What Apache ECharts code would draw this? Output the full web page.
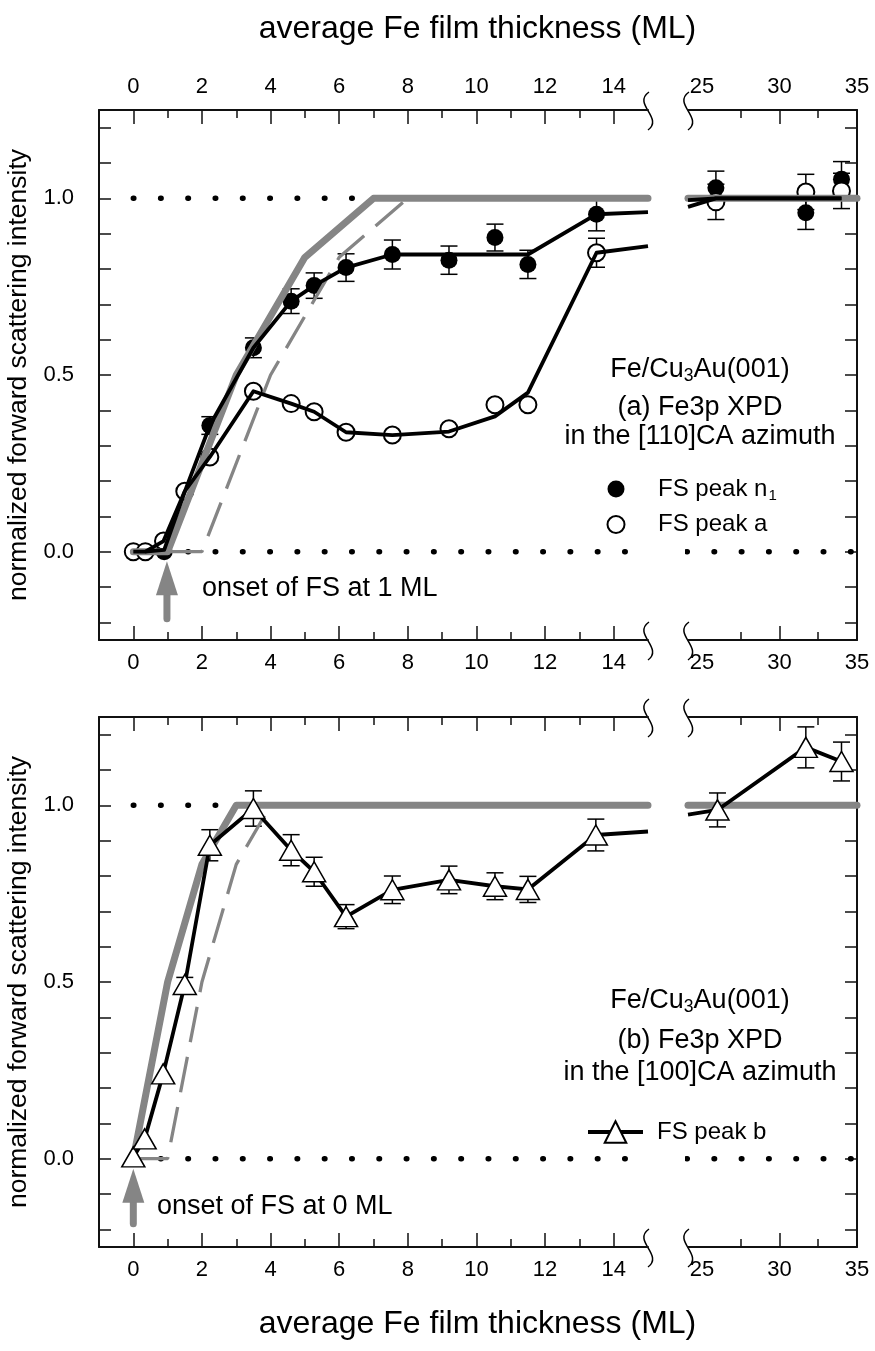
<!DOCTYPE html>
<html><head><meta charset="utf-8">
<script src="https://cdn.jsdelivr.net/npm/echarts@6/dist/echarts.min.js"></script>
<style>html,body{margin:0;padding:0;background:#fff}#c{width:875px;height:1351px}</style>
</head><body><div id="c"></div>
<script>
// ---------------- data ----------------
const xTicksLeftMajor = [0, 2, 4, 6, 8, 10, 12, 14];
const xTicksLeftMinor = [1, 3, 5, 7, 9, 11, 13];
const xLabelsLeft = [0, 2, 4, 6, 8, 10, 12, 14];
const xTicksRightMajor = [30];
const xTicksRightMinor = [27.5, 32.5];
const xLabelsRight = [25, 30, 35];
const yTicks = [-0.2, -0.1, 0, 0.1, 0.2, 0.3, 0.4, 0.5, 0.6, 0.7, 0.8, 0.9, 1.0, 1.1, 1.2];
const yLabels = [0, 0.5, 1.0];

// panel (a): FS peak n1 (filled) and FS peak a (open)
const n1X   = [0, 0.35, 0.9, 1.5, 2.23, 3.5, 4.6, 5.27, 6.2, 7.55, 9.2, 10.54, 11.5, 13.5, 25.9, 31.7, 34.0];
const n1Y   = [0, 0, 0.0, 0.17, 0.357, 0.577, 0.709, 0.753, 0.804, 0.841, 0.825, 0.889, 0.813, 0.955, 1.03, 0.959, 1.054];
const n1Err = [0, 0, 0, 0, 0.025, 0.028, 0.035, 0.036, 0.039, 0.041, 0.04, 0.038, 0.04, 0.047, 0.047, 0.047, 0.05];
const aX    = [0, 0.35, 0.88, 1.5, 2.23, 3.5, 4.6, 5.27, 6.2, 7.55, 9.2, 10.54, 11.5, 13.5, 25.9, 31.7, 34.0];
const aY    = [0, 0, 0.03, 0.171, 0.268, 0.454, 0.419, 0.396, 0.338, 0.330, 0.348, 0.416, 0.416, 0.846, 0.99, 1.018, 1.021];
const aErr  = [0, 0, 0, 0, 0, 0, 0, 0, 0, 0, 0, 0, 0, 0.041, 0.05, 0.05, 0.05];
const n1GuideL = [[0.35, 0], [0.9, 0.005], [1.5, 0.17], [2.23, 0.357], [3.5, 0.577], [4.6, 0.709], [5.27, 0.753], [6.2, 0.804], [7.55, 0.841], [11.5, 0.841], [13.5, 0.955], [15, 0.961]];
const n1GuideR = [[24.1, 0.976], [25.9, 1.0], [34, 1.0]];
const aGuideL  = [[0, 0], [0.35, 0], [0.88, 0.03], [1.5, 0.171], [2.23, 0.268], [3.5, 0.454], [4.6, 0.419], [5.27, 0.396], [6.2, 0.338], [7.55, 0.33], [9.2, 0.34], [10.54, 0.383], [11.5, 0.45], [13.5, 0.846], [15, 0.865]];
const aGuideR  = [[24.1, 0.995], [25.9, 1.0], [34, 1.0]];

// panel (b): FS peak b (triangles)
const bX   = [0, 0.33, 0.87, 1.5, 2.23, 3.5, 4.6, 5.27, 6.2, 7.55, 9.2, 10.54, 11.5, 13.48, 26.0, 31.7, 34.0];
const bY   = [0.005, 0.056, 0.24, 0.493, 0.887, 0.991, 0.873, 0.812, 0.685, 0.761, 0.789, 0.771, 0.762, 0.916, 0.987, 1.164, 1.124];
const bErr = [0, 0, 0, 0.02, 0.044, 0.05, 0.044, 0.041, 0.034, 0.039, 0.039, 0.038, 0.037, 0.045, 0.048, 0.058, 0.055];
const bGuideEndL = [15, 0.926];
const bGuideStartR = [24.1, 0.974];

// growth-model curves (grey)
const modelA      = [[0, 0], [1, 0], [3, 0.5], [5, 0.833], [7, 1], [15, 1]];
const modelAShift = [[1, 0], [2, 0], [4, 0.5], [6, 0.833], [8, 1]];
const modelB      = [[0, 0], [1, 0.5], [2, 0.833], [3, 1], [15, 1]];
const modelBShift = [[0, 0], [1, 0], [2, 0.5], [3, 0.833], [4, 1]];
const modelRight  = [[24.1, 1], [35, 1]];

// dotted reference levels
const refOneA  = [[0, 1], [6.4, 1]];
const refOneB  = [[0, 1], [2.4, 1]];
const refZeroL = [[0, 0], [14.4, 0]];
const refZeroR = [[24.02, 0], [34.62, 0]];

// onset arrows (tail, head centre)
const arrowA = [[0.98, -0.19], [0.98, -0.075]];
const arrowB = [[0, -0.184], [0, -0.077]];

// ---------------- chart ----------------
const FONT = "'Liberation Sans', Arial, Helvetica, sans-serif";
const GREY = '#858585';
const chart = echarts.init(document.getElementById('c'), null, {renderer: 'canvas'});

const grids = [
  {left: 99, top: 110, width: 549, height: 530},
  {left: 688, top: 110, width: 169, height: 530},
  {left: 99, top: 717, width: 549, height: 530},
  {left: 688, top: 717, width: 169, height: 530}
].map(g => Object.assign({outerBoundsMode: 'none', containLabel: false}, g));

function xAx(gridIndex, position, isLeft, major, showLabels) {
  return {
    type: 'value', gridIndex, position,
    min: isLeft ? -1 : 24.1, max: isLeft ? 15 : 35,
    axisLine: {show: major, onZero: false, lineStyle: {color: '#111', width: 2}},
    axisTick: {show: true, inside: true, length: major ? 14 : 8,
      customValues: major ? (isLeft ? xTicksLeftMajor : xTicksRightMajor) : (isLeft ? xTicksLeftMinor : xTicksRightMinor),
      lineStyle: {color: '#111', width: 1.5}},
    axisLabel: {show: showLabels, customValues: isLeft ? xLabelsLeft : xLabelsRight, margin: 12,
      color: '#000', fontSize: 22, fontFamily: FONT},
    splitLine: {show: false}
  };
}
const xAxes = [];
for (let g = 0; g < 4; g++) {
  const isLeft = g % 2 === 0;
  const panelA = g < 2;
  xAxes.push(xAx(g, 'bottom', isLeft, true, true));
  xAxes.push(xAx(g, 'bottom', isLeft, false, false));
  xAxes.push(xAx(g, 'top', isLeft, true, panelA));
  xAxes.push(xAx(g, 'top', isLeft, false, false));
}
const yAxes = [];
for (let g = 0; g < 4; g++) {
  const isLeft = g % 2 === 0;
  yAxes.push({
    type: 'value', gridIndex: g, position: isLeft ? 'left' : 'right', min: -0.25, max: 1.25,
    axisLine: {show: true, onZero: false, lineStyle: {color: '#111', width: 2}},
    axisTick: {show: true, inside: true, length: 12, customValues: yTicks, lineStyle: {color: '#111', width: 1.5}},
    axisLabel: {show: isLeft, customValues: yLabels, formatter: v => Number(v).toFixed(1), margin: 25,
      color: '#000', fontSize: 22, fontFamily: FONT},
    splitLine: {show: false},
    name: isLeft ? 'normalized forward scattering intensity' : '',
    nameLocation: 'middle', nameGap: 58, nameRotate: 90,
    nameTextStyle: {fontSize: 26.5, fontFamily: FONT, color: '#000'}
  });
}

const series = [];
function lineS(g, data, style, extra) {
  series.push(Object.assign({
    type: 'line', xAxisIndex: g * 4, yAxisIndex: g, data, symbol: 'none', clip: false,
    silent: true, lineStyle: style
  }, extra || {}));
}
const dotted = {color: '#000', width: 5.5, type: [0.5, 26.8], cap: 'round'};
const dashed = {color: GREY, width: 3.3, type: [36, 15], cap: 'butt'};
const solidGrey = {color: GREY, width: 7, cap: 'round', join: 'round'};
const black = {color: '#000', width: 3.8, join: 'round'};

function errS(g, xs, ys, es, filter) {
  const d = [];
  xs.forEach((x, i) => { if (filter(x) && es[i] > 0) d.push([x, ys[i], es[i]]); });
  series.push({
    type: 'custom', xAxisIndex: g * 4, yAxisIndex: g, data: d, silent: true, clip: false,
    renderItem: (params, api) => {
      const x = api.value(0), y = api.value(1), e = api.value(2);
      const t = api.coord([x, y + e]), b = api.coord([x, y - e]);
      const st = {stroke: '#000', lineWidth: 1.5};
      return {type: 'group', children: [
        {type: 'line', shape: {x1: t[0], y1: t[1], x2: b[0], y2: b[1]}, style: st},
        {type: 'line', shape: {x1: t[0] - 8.5, y1: t[1], x2: t[0] + 8.5, y2: t[1]}, style: st},
        {type: 'line', shape: {x1: b[0] - 8.5, y1: b[1], x2: b[0] + 8.5, y2: b[1]}, style: st}
      ]};
    }
  });
}
function pts(xs, ys, filter) {
  const d = [];
  xs.forEach((x, i) => { if (filter(x)) d.push([x, ys[i]]); });
  return d;
}
const isL = x => x < 20, isR = x => x >= 20;

function arrowS(g, arr) {
  series.push({
    type: 'line', xAxisIndex: g * 4, yAxisIndex: g, silent: true, clip: false,
    data: [{value: arr[0], symbol: 'none'}, {value: arr[1], symbol: 'triangle', symbolSize: [22, 34]}],
    showAllSymbol: true,
    lineStyle: {color: GREY, width: 7, cap: 'round'},
    itemStyle: {color: GREY, opacity: 1}
  });
}

// ---- panel (a) ----
lineS(0, refOneA, dotted); lineS(0, refZeroL, dotted); lineS(1, refZeroR, dotted);
lineS(0, modelAShift, dashed);
lineS(0, modelA, solidGrey); lineS(1, modelRight, solidGrey);
lineS(0, n1GuideL, black); lineS(0, aGuideL, black);
lineS(1, n1GuideR, black); lineS(1, aGuideR, black);
errS(0, n1X, n1Y, n1Err, isL); errS(1, n1X, n1Y, n1Err, isR);
errS(0, aX, aY, aErr, isL); errS(1, aX, aY, aErr, isR);
const filledStyle = {color: '#000', opacity: 1};
const openStyle = {color: '#fff', borderColor: '#000', borderWidth: 2, opacity: 1};
[[0, isL], [1, isR]].forEach(([g, f]) => {
  series.push({name: 'FS peak n1', type: 'scatter', xAxisIndex: g * 4, yAxisIndex: g, silent: true,
    data: pts(n1X, n1Y, f), symbol: 'circle', symbolSize: 17, itemStyle: filledStyle});
});
[[0, isL], [1, isR]].forEach(([g, f]) => {
  series.push({name: 'FS peak a', type: 'scatter', xAxisIndex: g * 4, yAxisIndex: g, silent: true,
    data: pts(aX, aY, f), symbol: 'circle', symbolSize: 17, itemStyle: openStyle});
});
arrowS(0, arrowA);

// ---- panel (b) ----
lineS(2, refOneB, dotted); lineS(2, refZeroL, dotted); lineS(3, refZeroR, dotted);
lineS(2, modelBShift, dashed);
lineS(2, modelB, solidGrey); lineS(3, modelRight, solidGrey);
lineS(2, pts(bX, bY, isL).concat([bGuideEndL]), black);
lineS(3, [bGuideStartR].concat(pts(bX, bY, isR)), black);
errS(2, bX, bY, bErr, isL); errS(3, bX, bY, bErr, isR);
[[2, isL], [3, isR]].forEach(([g, f]) => {
  series.push({name: 'FS peak b', type: 'line', xAxisIndex: g * 4, yAxisIndex: g, silent: true,
    data: pts(bX, bY, f), symbol: 'triangle', symbolSize: [23, 20], showAllSymbol: true,
    lineStyle: {opacity: 0, width: 0}, itemStyle: {color: '#fff', borderColor: '#000', borderWidth: 1.5, opacity: 1}});
});
arrowS(2, arrowB);

const legendRich = {s: {fontSize: 15, fontFamily: FONT, color: '#000', padding: [14, 0, 0, 1]}};

chart.setOption({
  animation: false,
  backgroundColor: '#fff',
  grid: grids,
  xAxis: xAxes,
  yAxis: yAxes,
  legend: [
    {orient: 'vertical', left: 601.5, top: 472, itemWidth: 17, itemHeight: 17, itemGap: 9,
      data: ['FS peak n1', 'FS peak a'], selectedMode: false,
      formatter: n => n === 'FS peak n1' ? 'FS peak n{s|1}' : n,
      textStyle: {fontSize: 24, fontFamily: FONT, color: '#000', padding: [0, 0, 0, 28.5], rich: legendRich}},
    {orient: 'vertical', left: 581, top: 1115, itemWidth: 55, itemHeight: 27,
      data: ['FS peak b'], selectedMode: false,
      lineStyle: {color: '#000', width: 4, opacity: 1},
      textStyle: {fontSize: 24, fontFamily: FONT, color: '#000', padding: [0, 0, 0, 9]}}
  ],
  series
});

// text annotations and axis-break marks
function brk(x0, y0) {
  return {type: 'bezierCurve', silent: true, shape: {
    x1: x0 + 1, y1: y0 - 18, cpx1: x0 - 16, cpy1: y0 - 6, cpx2: x0 + 16, cpy2: y0 + 8, x2: x0, y2: y0 + 20},
    style: {stroke: '#000', lineWidth: 1.5, fill: null}};
}
function richText(x, y, text, size) {
  return {type: 'text', x, y, silent: true, style: {
    text, fontSize: size, fontFamily: FONT, fill: '#000', align: 'center', verticalAlign: 'middle',
    rich: {s: {fontSize: 17.5, fontFamily: FONT, fill: '#000', padding: [13, 0, 0, 0]}}
  }};
}
function leftText(x, y, text, size) {
  return {type: 'text', x, y, silent: true, style: {text, fontSize: size, fontFamily: FONT, fill: '#000',
    align: 'left', verticalAlign: 'middle'}};
}
const g = [];
[[0, 1], [2, 3]].forEach(([gl, gr]) => {
  const pl = chart.convertToPixel({gridIndex: gl}, [15, 1.25]);
  const plb = chart.convertToPixel({gridIndex: gl}, [15, -0.25]);
  const pr = chart.convertToPixel({gridIndex: gr}, [24.1, 1.25]);
  g.push(brk(pl[0], pl[1]), brk(plb[0], plb[1]), brk(pr[0], pr[1]), brk(pr[0], plb[1]));
});
g.push(
  richText(477.5, 29, 'average Fe film thickness (ML)', 32),
  richText(477.5, 1324, 'average Fe film thickness (ML)', 32),
  richText(700, 370, 'Fe/Cu{s|3}Au(001)', 27),
  richText(700, 408, '(a) Fe3p XPD', 27),
  richText(700, 437, 'in the [110]CA azimuth', 27),
  richText(700, 1001, 'Fe/Cu{s|3}Au(001)', 27),
  richText(700, 1041, '(b) Fe3p XPD', 27),
  richText(700, 1073, 'in the [100]CA azimuth', 27),
  leftText(202, 589, 'onset of FS at 1 ML', 27),
  leftText(157, 1207, 'onset of FS at 0 ML', 27)
);
chart.setOption({graphic: g});
</script>
</body></html>
